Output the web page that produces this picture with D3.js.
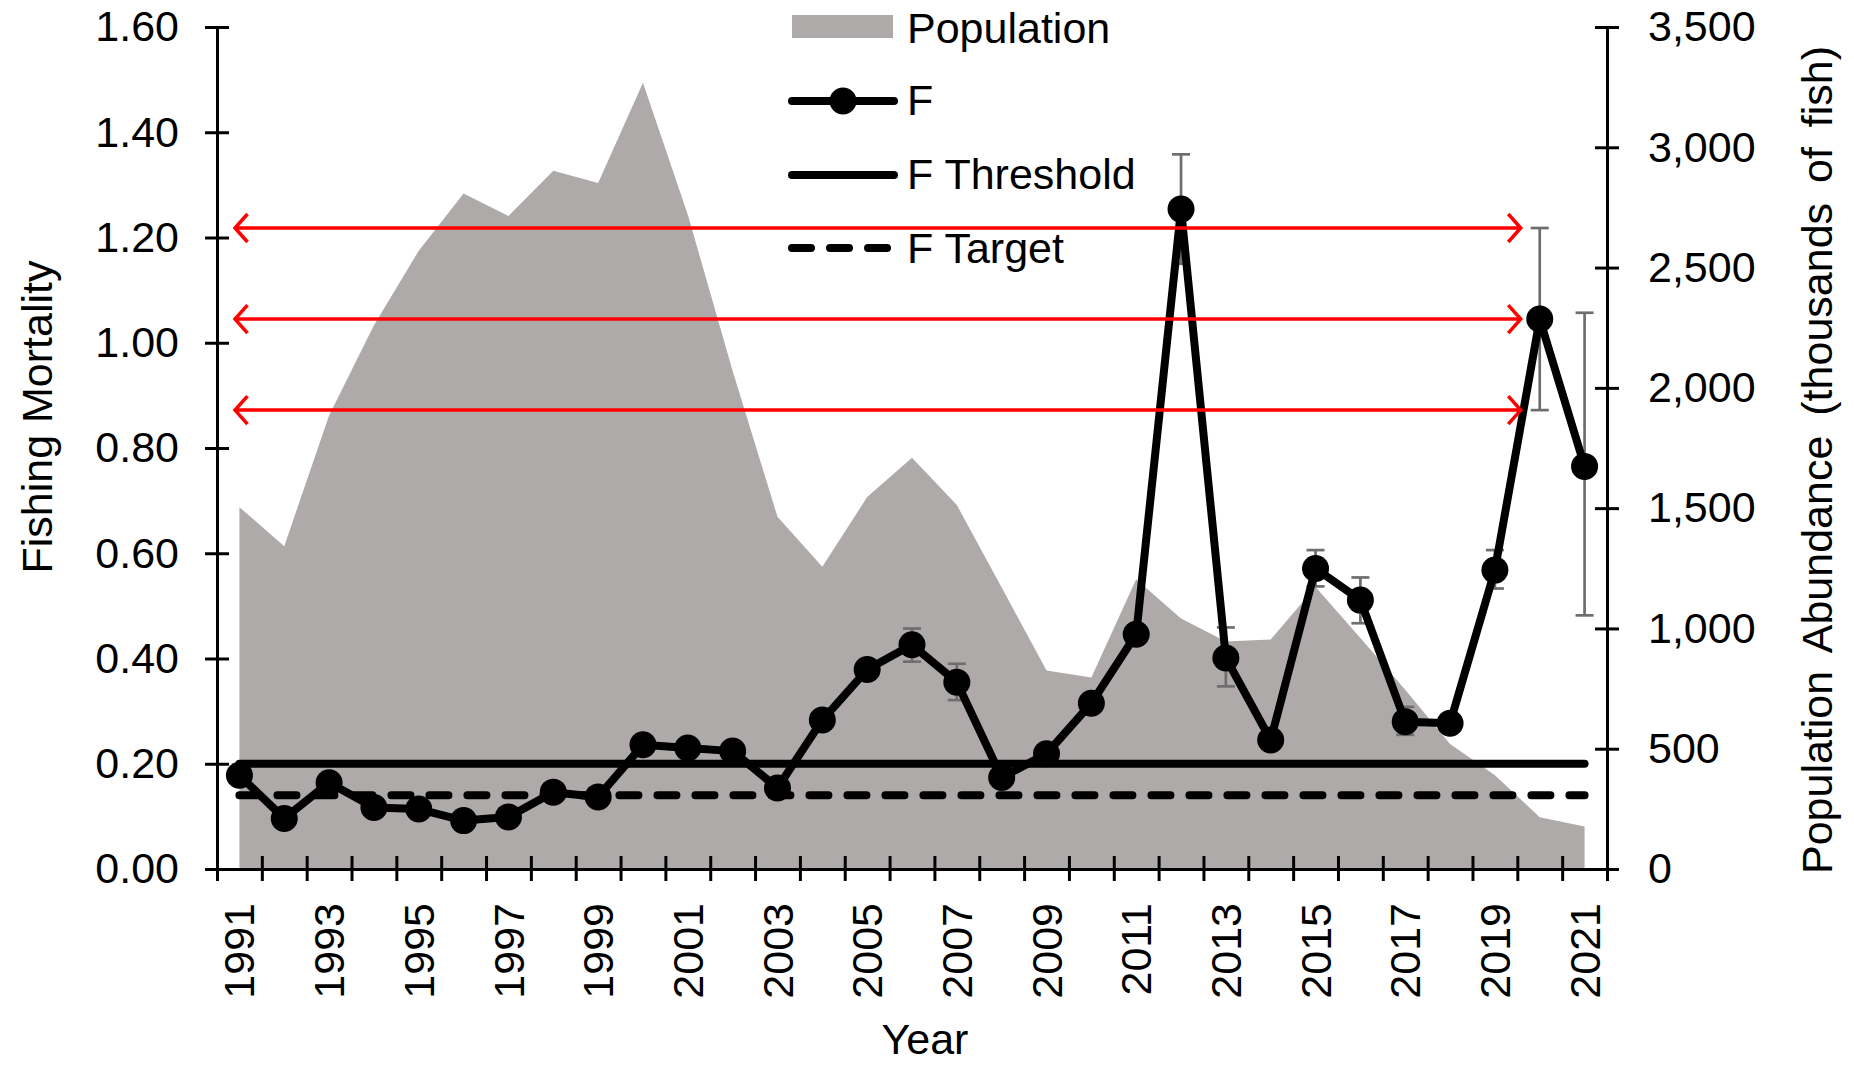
<!DOCTYPE html>
<html>
<head>
<meta charset="utf-8">
<script src="https://cdn.jsdelivr.net/npm/d3@7"></script>
<style>
body { margin: 0; background: #fff; }
text { font-family: "Liberation Sans", Arial, sans-serif; fill: #000; }
</style>
</head>
<body>
<script>
// Chart data
let years = [1991, 1992, 1993, 1994, 1995, 1996, 1997, 1998, 1999, 2000,
             2001, 2002, 2003, 2004, 2005, 2006, 2007, 2008, 2009, 2010,
             2011, 2012, 2013, 2014, 2015, 2016, 2017, 2018, 2019, 2020, 2021];

// Population abundance (thousands of fish), right axis
let population = [1504, 1342, 1885, 2260, 2570, 2808, 2714, 2902, 2852, 3268,
                  2720, 2070, 1464, 1256, 1546, 1709, 1513, 1170, 825, 796,
                  1204, 1041, 946, 954, 1172, 960, 745, 520, 390, 215, 177];

// Fishing mortality F, left axis
let fMortality = [0.178, 0.096, 0.164, 0.117, 0.114, 0.092, 0.099, 0.146, 0.137, 0.236,
                  0.230, 0.224, 0.154, 0.283, 0.379, 0.426, 0.355, 0.174, 0.219, 0.315,
                  0.446, 1.254, 0.401, 0.245, 0.571, 0.511, 0.280, 0.277, 0.568, 1.045, 0.765];

// Confidence interval of F (lower / upper)
let fLow = [0.165, 0.085, 0.150, 0.105, 0.102, 0.082, 0.088, 0.133, 0.124, 0.222,
            0.217, 0.211, 0.141, 0.268, 0.362, 0.394, 0.321, 0.160, 0.205, 0.300,
            0.430, 1.150, 0.347, 0.231, 0.537, 0.467, 0.255, 0.263, 0.533, 0.872, 0.482];
let fHigh = [0.190, 0.108, 0.177, 0.130, 0.127, 0.103, 0.110, 0.159, 0.150, 0.250,
             0.243, 0.237, 0.167, 0.298, 0.396, 0.457, 0.390, 0.188, 0.233, 0.330,
             0.462, 1.358, 0.459, 0.259, 0.606, 0.554, 0.308, 0.291, 0.606, 1.218, 1.057];

let fThreshold = 0.20;
let fTarget = 0.14;

let leftTicks = [0, 0.2, 0.4, 0.6, 0.8, 1.0, 1.2, 1.4, 1.6];
let rightTicks = [0, 500, 1000, 1500, 2000, 2500, 3000, 3500];
let labelYears = [1991, 1993, 1995, 1997, 1999, 2001, 2003, 2005, 2007, 2009,
                  2011, 2013, 2015, 2017, 2019, 2021];

// Year whose F estimate and interval are marked by the red arrows
let arrowYear = 2020;

// Layout
let svgWidth = 1854;
let svgHeight = 1065;
let plot = { left: 217, right: 1607, top: 27, bottom: 869 };
let fontSize = 43;
let areaColor = "#aeaaa9";
let errColor = "#6e6e6e";

let svg = d3.select("body")
    .append("svg")
    .attr("width", svgWidth)
    .attr("height", svgHeight);

// Scales: categories centred between boundary ticks
let xScale = d3.scaleLinear()
    .domain([years[0] - 0.5, years[years.length - 1] + 0.5])
    .range([plot.left, plot.right]);
let yLeft = d3.scaleLinear().domain([0, 1.6]).range([plot.bottom, plot.top]);
let yRight = d3.scaleLinear().domain([0, 3500]).range([plot.bottom, plot.top]);

// Population area
let area = d3.area()
    .x((d, i) => xScale(years[i]))
    .y0(yRight(0))
    .y1(d => yRight(d));
svg.append("path")
    .datum(population)
    .attr("d", area)
    .attr("fill", areaColor);

// Threshold and target lines
svg.append("path")
    .datum(years)
    .attr("d", d3.line().x(d => xScale(d)).y(() => yLeft(fThreshold)))
    .attr("fill", "none")
    .attr("stroke", "#000")
    .attr("stroke-width", 8)
    .attr("stroke-linecap", "round");
svg.append("path")
    .datum(years)
    .attr("d", d3.line().x(d => xScale(d)).y(() => yLeft(fTarget)))
    .attr("fill", "none")
    .attr("stroke", "#000")
    .attr("stroke-width", 8)
    .attr("stroke-linecap", "round")
    .attr("stroke-dasharray", "19,19");

// Error bars
let errGroup = svg.append("g")
    .attr("stroke", errColor)
    .attr("stroke-width", 2.7);
years.forEach((yr, i) => {
    let cx = xScale(yr);
    errGroup.append("line")
        .attr("x1", cx).attr("x2", cx)
        .attr("y1", yLeft(fLow[i])).attr("y2", yLeft(fHigh[i]));
    [fLow[i], fHigh[i]].forEach(v => {
        errGroup.append("line")
            .attr("x1", cx - 9).attr("x2", cx + 9)
            .attr("y1", yLeft(v)).attr("y2", yLeft(v));
    });
});

// F line and markers
svg.append("path")
    .datum(fMortality)
    .attr("d", d3.line().x((d, i) => xScale(years[i])).y(d => yLeft(d)))
    .attr("fill", "none")
    .attr("stroke", "#000")
    .attr("stroke-width", 8)
    .attr("stroke-linejoin", "round");
svg.append("g")
    .selectAll("circle")
    .data(fMortality)
    .enter()
    .append("circle")
    .attr("cx", (d, i) => xScale(years[i]))
    .attr("cy", d => yLeft(d))
    .attr("r", 13.5)
    .attr("fill", "#000");

// Axes
function styleAxis(g) {
    g.attr("font-size", fontSize)
        .attr("font-family", '"Liberation Sans", Arial, sans-serif');
    g.select(".domain").attr("stroke", "#000").attr("stroke-width", 3);
    g.selectAll(".tick line").attr("stroke", "#000").attr("stroke-width", 3);
    g.selectAll(".tick text").attr("fill", "#000");
}

let leftAxis = d3.axisLeft(yLeft)
    .tickValues(leftTicks)
    .tickFormat(d3.format(".2f"))
    .tickSizeInner(12)
    .tickSizeOuter(0)
    .tickPadding(26);
let gLeft = svg.append("g")
    .attr("transform", `translate(${plot.left},0)`)
    .call(leftAxis)
    .call(styleAxis);
gLeft.selectAll(".tick line").attr("x1", 12);

let rightAxis = d3.axisRight(yRight)
    .tickValues(rightTicks)
    .tickFormat(d3.format(","))
    .tickSizeInner(12)
    .tickSizeOuter(0)
    .tickPadding(29);
let gRight = svg.append("g")
    .attr("transform", `translate(${plot.right},0)`)
    .call(rightAxis)
    .call(styleAxis);
gRight.selectAll(".tick line").attr("x1", -12);

let boundaries = years.map(d => d - 0.5).concat([years[years.length - 1] + 0.5]);
let bottomAxis = d3.axisBottom(xScale)
    .tickValues(boundaries)
    .tickFormat("")
    .tickSizeInner(12)
    .tickSizeOuter(0);
let gBottom = svg.append("g")
    .attr("transform", `translate(0,${plot.bottom})`)
    .call(bottomAxis)
    .call(styleAxis);
gBottom.selectAll(".tick line").attr("y1", -13);

// Rotated year labels
svg.append("g")
    .selectAll("text")
    .data(labelYears)
    .enter()
    .append("text")
    .attr("transform", d => `translate(${xScale(d)},${plot.bottom + 34}) rotate(-90)`)
    .attr("text-anchor", "end")
    .attr("dy", "0.35em")
    .attr("font-size", fontSize)
    .text(d => d);

// Axis titles
svg.append("text")
    .attr("transform", "translate(52,417) rotate(-90)")
    .attr("text-anchor", "middle")
    .attr("font-size", fontSize)
    .text("Fishing Mortality");
svg.append("text")
    .attr("transform", "translate(1832,460) rotate(-90)")
    .attr("text-anchor", "middle")
    .attr("font-size", fontSize)
    .attr("word-spacing", 8)
    .text("Population Abundance (thousands of fish)");
svg.append("text")
    .attr("x", 925)
    .attr("y", 1054)
    .attr("text-anchor", "middle")
    .attr("font-size", fontSize)
    .text("Year");

// Legend
let legend = svg.append("g");
let legX = 788, legW = 110, legTextX = 907;
legend.append("rect")
    .attr("x", legX + 4).attr("y", 15)
    .attr("width", 101).attr("height", 23)
    .attr("fill", areaColor);
legend.append("line")
    .attr("x1", legX + 4).attr("x2", legX + legW - 4)
    .attr("y1", 101).attr("y2", 101)
    .attr("stroke", "#000").attr("stroke-width", 8).attr("stroke-linecap", "round");
legend.append("circle")
    .attr("cx", legX + legW / 2).attr("cy", 101).attr("r", 13.5).attr("fill", "#000");
legend.append("line")
    .attr("x1", legX + 4).attr("x2", legX + legW - 4)
    .attr("y1", 175).attr("y2", 175)
    .attr("stroke", "#000").attr("stroke-width", 8).attr("stroke-linecap", "round");
legend.append("line")
    .attr("x1", legX + 4).attr("x2", legX + legW - 4)
    .attr("y1", 248).attr("y2", 248)
    .attr("stroke", "#000").attr("stroke-width", 8).attr("stroke-linecap", "round")
    .attr("stroke-dasharray", "19,19");
[["Population", 43], ["F", 115], ["F Threshold", 189], ["F Target", 263]].forEach(d => {
    legend.append("text")
        .attr("x", legTextX)
        .attr("y", d[1])
        .attr("font-size", fontSize)
        .text(d[0]);
});

// Red double-headed arrows at the F estimate and interval of arrowYear
let ai = years.indexOf(arrowYear);
let arrowVals = [fHigh[ai], fMortality[ai], fLow[ai]];
let arrowLeft = plot.left + 18;
let arrowRight = xScale(arrowYear) - 19;
let arrows = svg.append("g")
    .attr("fill", "none")
    .attr("stroke", "#ff0000")
    .attr("stroke-width", 3.5);
arrowVals.forEach(v => {
    let y = yLeft(v);
    let p = d3.path();
    p.moveTo(arrowLeft, y);
    p.lineTo(arrowRight, y);
    p.moveTo(arrowLeft + 12.5, y - 14);
    p.lineTo(arrowLeft, y);
    p.lineTo(arrowLeft + 12.5, y + 14);
    p.moveTo(arrowRight - 12.5, y - 14);
    p.lineTo(arrowRight, y);
    p.lineTo(arrowRight - 12.5, y + 14);
    arrows.append("path").attr("d", p.toString());
});
</script>
</body>
</html>
